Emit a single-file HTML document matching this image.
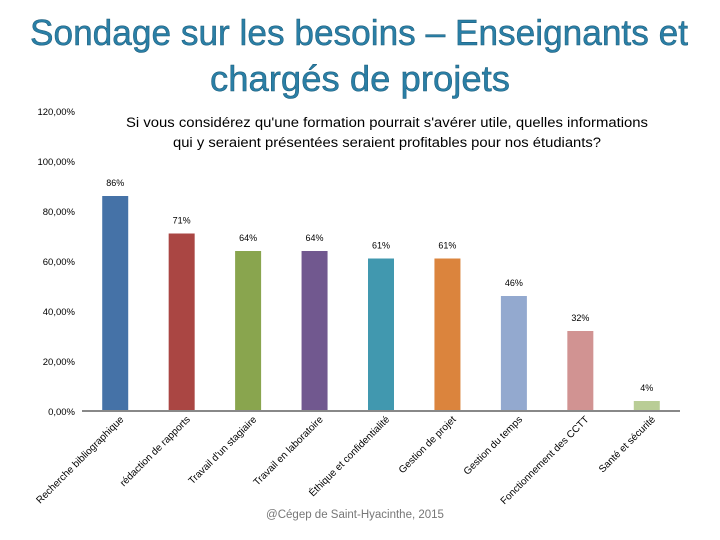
<!DOCTYPE html>
<html><head><meta charset="utf-8"><style>
body{margin:0;width:720px;height:540px;background:#fff;overflow:hidden;font-family:"Liberation Sans",sans-serif}
svg{position:absolute;left:0;top:0}
</style></head><body>
<svg width="720" height="540">
<text x="30" y="45" textLength="658" lengthAdjust="spacingAndGlyphs" font-size="36" fill="#2a7fa6" stroke="#1b5a78" stroke-width="0.5">Sondage sur les besoins – Enseignants et</text>
<text x="210" y="91" textLength="300" lengthAdjust="spacingAndGlyphs" font-size="36" fill="#2a7fa6" stroke="#1b5a78" stroke-width="0.5">chargés de projets</text>
<text x="126" y="127" textLength="522" lengthAdjust="spacingAndGlyphs" font-size="13.5" fill="#000">Si vous considérez qu'une formation pourrait s'avérer utile, quelles informations</text>
<text x="173" y="147" textLength="428" lengthAdjust="spacingAndGlyphs" font-size="13.5" fill="#000">qui y seraient présentées seraient profitables pour nos étudiants?</text>
<g id="plot"></g>
<text x="355" y="518" text-anchor="middle" font-size="11.5" fill="#777">@Cégep de Saint-Hyacinthe, 2015</text>
</svg>
<script>
const categories=["Recherche bibliographique","rédaction de rapports","Travail d'un stagiaire","Travail en laboratoire","Éthique et confidentialité","Gestion de projet","Gestion du temps","Fonctionnement des CCTT","Santé et sécurité"];
const values=[86,71,64,64,61,61,46,32,4];
const valueLabels=["86%","71%","64%","64%","61%","61%","46%","32%","4%"];
const tickValues=[0,20,40,60,80,100,120];
const tickLabels=["0,00%","20,00%","40,00%","60,00%","80,00%","100,00%","120,00%"];
const colors=["#4572a7","#aa4643","#89a54e","#71588f","#4198af","#db843d","#93a9cf","#d19392","#b9cd96"];
const NS="http://www.w3.org/2000/svg";
const g=document.getElementById('plot');
const x0=82,x1=680,y0=411,pxPer=2.5;
const bw=(x1-x0)/categories.length;
const y=v=>y0-v*pxPer;
const xc=i=>x0+bw*(i+0.5);
function mk(t,a){const e=document.createElementNS(NS,t);for(const k in a)e.setAttribute(k,a[k]);g.appendChild(e);return e;}
tickValues.forEach((v,i)=>{
 const t=mk('text',{x:75,y:y(v)+4,'text-anchor':'end','font-size':9.5,fill:'#000'});
 t.textContent=tickLabels[i];
 
 
});
values.forEach((v,i)=>{
 const r=mk('rect',{x:xc(i)-13,y:y(v),width:26,height:v*pxPer,fill:colors[i]});
 
 
 const t=mk('text',{x:xc(i),y:y(v)-10,'text-anchor':'middle','font-size':9,fill:'#000'});
 t.textContent=valueLabels[i];
 
 
 const c=mk('text',{x:xc(i)+9,y:420,'text-anchor':'end','font-size':10,fill:'#000',transform:`rotate(-45 ${xc(i)+9} 420)`});
 c.textContent=categories[i];
 
 
});
const ax=mk('line',{x1:x0,y1:y0,x2:x1,y2:y0,stroke:'#888','stroke-width':2});


</script>
</body></html>
